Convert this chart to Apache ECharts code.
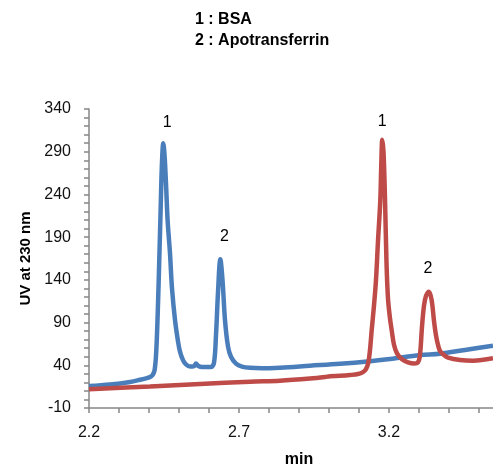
<!DOCTYPE html>
<html>
<head>
<meta charset="utf-8">
<script src="https://cdn.jsdelivr.net/npm/echarts@6/dist/echarts.min.js"></script>
<style>
  html, body { margin: 0; padding: 0; background: #fff; }
  #chart { width: 493px; height: 468px; }
</style>
</head>
<body>
<div id="chart"></div>
<script>
// Chromatogram traces: retention time (min) and UV absorbance at 230 nm
const timeBlue = [2.200, 2.270, 2.337, 2.370, 2.393, 2.405, 2.413, 2.419, 2.424, 2.429, 2.434, 2.439, 2.443, 2.4477,
  2.452, 2.457, 2.462, 2.470, 2.4767, 2.4867, 2.4967, 2.5033, 2.5133, 2.5233, 2.5367, 2.550, 2.5567, 2.5633,
  2.5767, 2.6067, 2.6167, 2.6233, 2.630, 2.6378, 2.645, 2.6533, 2.6633, 2.6733, 2.690, 2.710, 2.7367, 2.7767,
  2.8367, 2.9367, 3.0367, 3.1367, 3.2033, 3.3033, 3.370, 3.4533, 3.5467];
const uvBlue = [15.7, 17.5, 20.5, 23, 25, 26.5, 29, 35, 55, 100, 160, 225, 275, 300,
  285, 250, 210, 171, 130, 93, 68, 56, 46, 41, 38.5, 39, 42, 39.5,
  38, 38, 43, 75, 125, 164, 140, 93, 62, 50, 42, 38.5, 37, 36.5,
  37.2, 39.5, 41.8, 44.8, 47.3, 52, 53.5, 58, 63];

const timeRed = [2.200, 2.4033, 2.570, 2.7367, 2.8367, 2.9367, 2.9867, 3.0033, 3.0367, 3.070, 3.0967, 3.1133, 3.1233,
  3.1310, 3.1367, 3.1423, 3.150, 3.1567, 3.1633, 3.1710, 3.1743, 3.1777, 3.1817, 3.1867, 3.1917, 3.1967, 3.2033,
  3.209, 3.2167, 3.2267, 3.2433, 3.2633, 3.2833, 3.2967, 3.3033, 3.310, 3.3167, 3.3233, 3.3333, 3.3423, 3.350,
  3.3567, 3.3633, 3.370, 3.3833, 3.3967, 3.4367, 3.480, 3.5467];
const uvRed = [11.9, 15.2, 18, 20.8, 22, 24.5, 26.3, 27.2, 27.7, 28.6, 29.8, 32, 35.5,
  43, 58, 81, 110, 140, 185, 233, 275, 304, 290, 235, 160, 118, 95,
  81, 64, 54, 47, 43.5, 42, 43.5, 52, 85, 110, 121, 126, 116, 92,
  75, 64, 57, 52, 49, 46.2, 45.4, 48.2];

// Peak annotations: label text and retention time of the apex it sits over
const peaksBlue = [{ text: '1', time: 2.4477 }, { text: '2', time: 2.6378 }];
const peaksRed = [{ text: '1', time: 3.1777 }, { text: '2', time: 3.3333 }];

// Axis ticks and labels
const xTicks = [2.2, 2.3, 2.4, 2.5, 2.6, 2.7, 2.8, 2.9, 3.0, 3.1, 3.2, 3.3, 3.4, 3.5];
const xLabels = [2.2, 2.7, 3.2];
const yTicks = [];
for (let v = -10; v <= 340; v += 10) yTicks.push(v);
const yLabels = [-10, 40, 90, 140, 190, 240, 290, 340];

const titleLines = ['1 : BSA', '2 : Apotransferrin'];

const pairs = (xs, ys) => xs.map((x, i) => [x, ys[i]]);
const peakMarks = (xs, ys, peaks, dists, offsets) => peaks.map((p, k) => {
  const i = xs.indexOf(p.time);
  return {
    coord: [xs[i], ys[i]],
    label: { formatter: p.text, distance: dists[k], offset: offsets[k] }
  };
});

const FONT = 'Liberation Sans';
const axisGray = '#868686';

const markStyle = {
  symbol: 'circle',
  symbolSize: 0,
  silent: true,
  label: { show: true, position: 'top', color: '#000', fontSize: 16, fontFamily: FONT }
};

const chart = echarts.init(document.getElementById('chart'), null, { renderer: 'canvas' });
chart.setOption({
  animation: false,
  backgroundColor: '#fff',
  title: {
    text: titleLines.join('\n'),
    left: 190,
    top: 4,
    textStyle: { fontFamily: FONT, fontSize: 16, fontWeight: 'bold', color: '#000', lineHeight: 21 }
  },
  grid: { left: 89, right: 0, top: 109, bottom: 60, containLabel: false, outerBoundsMode: 'none' },
  xAxis: {
    type: 'value',
    min: 2.2,
    max: 3.5467,
    name: 'min',
    nameLocation: 'middle',
    nameGap: 44,
    nameTextStyle: { fontFamily: FONT, fontSize: 16, fontWeight: 'bold', color: '#000', padding: [0, 0, 0, 16] },
    axisLine: { show: true, onZero: false, lineStyle: { color: axisGray, width: 1.5 } },
    axisTick: { show: true, length: 5, inside: false, customValues: xTicks, lineStyle: { color: axisGray, width: 1.5 } },
    axisLabel: { customValues: xLabels, margin: 17, fontFamily: FONT, fontSize: 16, color: '#111',
      formatter: v => v.toFixed(1) },
    splitLine: { show: false }
  },
  yAxis: {
    type: 'value',
    min: -10,
    max: 340,
    interval: 50,
    name: 'UV at 230 nm',
    nameLocation: 'middle',
    nameRotate: 90,
    nameGap: 55,
    nameTextStyle: { fontFamily: FONT, fontSize: 15, fontWeight: 'bold', color: '#000' },
    axisLine: { show: true, onZero: false, lineStyle: { color: axisGray, width: 1.5 } },
    axisTick: { show: true, length: 5, customValues: yTicks, lineStyle: { color: axisGray, width: 1.5 } },
    axisLabel: { customValues: yLabels, margin: 18, fontFamily: FONT, fontSize: 16, color: '#111' },
    splitLine: { show: false }
  },
  series: [
    {
      type: 'line',
      data: pairs(timeBlue, uvBlue),
      showSymbol: false,
      smooth: 0.35,
      lineStyle: { color: '#4A7EBB', width: 4.5 },
      itemStyle: { color: '#4A7EBB' },
      markPoint: Object.assign({}, markStyle, {
        data: peakMarks(timeBlue, uvBlue, peaksBlue, [13, 15], [[4, 0], [4, 0]])
      })
    },
    {
      type: 'line',
      data: pairs(timeRed, uvRed),
      showSymbol: false,
      smooth: 0.35,
      lineStyle: { color: '#BE4B48', width: 4.5 },
      itemStyle: { color: '#BE4B48' },
      markPoint: Object.assign({}, markStyle, {
        data: peakMarks(timeRed, uvRed, peaksRed, [10, 15], [[0, 0], [-1, 0]])
      })
    }
  ]
});
</script>
</body>
</html>
